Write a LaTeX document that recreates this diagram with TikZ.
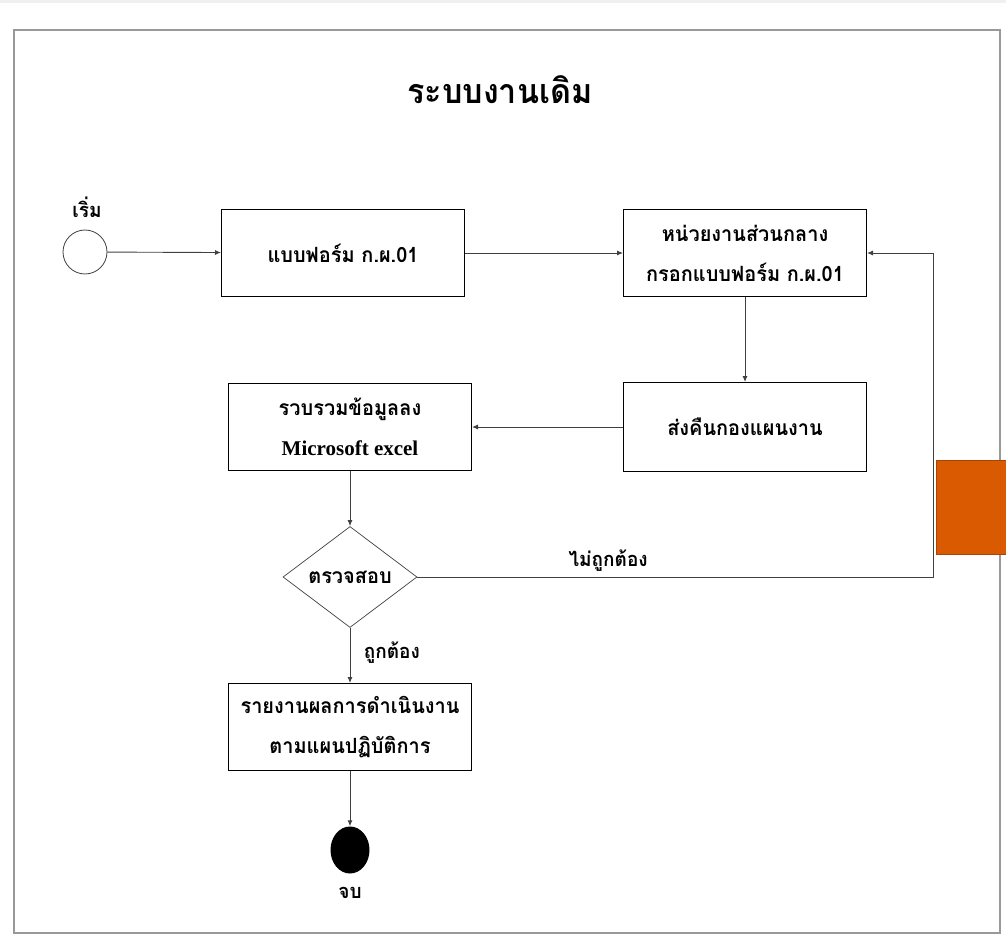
\documentclass[tikz,border=0pt]{standalone}
\usepackage{fontspec}
\setmainfont{Liberation Serif}
\newfontfamily\thaifont[Script=Thai, FakeStretch=0.95]{Loma}
\usetikzlibrary{positioning,shapes.geometric,arrows.meta}
\definecolor{blockorange}{RGB}{218,90,2}
\definecolor{blockedge}{RGB}{168,68,8}

\begin{document}
\begin{tikzpicture}[
  x=1pt, y=-1pt,
  font=\thaifont\bfseries\fontsize{21}{40}\selectfont,
  box/.style={rectangle, draw=black, line width=1pt,
              minimum width=243pt, minimum height=87pt, inner sep=0pt,
              align=center},
  decide/.style={diamond, draw=black!75, line width=0.7pt, aspect=1.33,
                 minimum width=134pt, minimum height=101pt, inner sep=0pt},
  initial/.style={circle, draw=black!75, line width=0.8pt,
                  minimum width=40pt, minimum height=44pt, inner sep=0pt},
  final/.style={ellipse, fill=black, minimum width=39pt, minimum height=47pt,
                inner sep=0pt},
  arr/.style={draw=black!75, line width=0.9pt, -{Latex[length=6pt,width=5pt]}},
  lbl/.style={font=\thaifont\bfseries\fontsize{20}{22}\selectfont}
]
\useasboundingbox (0,0) rectangle (1006,949);
\fill[black!6] (0,0) rectangle (1006,3);

% ---- frame and title ----
\draw[black!40, line width=2pt] (14,30) rectangle (1000,933);
\node[font=\thaifont\bfseries\fontsize{34}{38}\selectfont] (title) at (500,90) {ระบบงานเดิม};

% ---- activities ----
\node[initial] (start) at (85,252) {};
\node[lbl] (startlbl) at (87,207) {เริ่ม};
\node[box] (form) at (343,253) {แบบฟอร์ม ก.ผ.01};
\node[box] (central) at (745,253) {หน่วยงานส่วนกลาง\\กรอกแบบฟอร์ม ก.ผ.01};
\node[box, minimum height=89pt] (returnp) at (745,427) {ส่งคืนกองแผนงาน};
\node[box] (collect) at (350,427) {รวบรวมข้อมูลลง\\{\fontspec{Liberation Serif}\bfseries\fontsize{21}{24}\selectfont Microsoft excel}};
\node[decide] (check) at (350,577) {ตรวจสอบ};
\node[box] (report) at (350,727) {รายงานผลการดำเนินงาน\\ตามแผนปฏิบัติการ};
\node[final] (finish) at (350,850) {};
\node[lbl] (finishlbl) at (350,893) {จบ};

% ---- flow ----
\draw[arr] (start) -- (form);
\draw[arr] (form) -- (central);
\draw[arr] (central) -- (returnp);
\draw[arr] (returnp) -- (collect);
\draw[arr] (collect) -- (check);
\draw[arr] (check) -- node[lbl, right, pos=0.45, xshift=10pt] {ถูกต้อง} (report);
\draw[arr] (report) -- (finish);

% back to the central unit
\coordinate (turn) at (933,577);
\draw[arr] (check.east) -- node[lbl, above, pos=0.37, yshift=2pt] {ไม่ถูกต้อง} (turn) |- (central.east);

% orange tab on the right edge
\draw[fill=blockorange, draw=blockedge, line width=1pt] (936,460) rectangle (1012,554);

\end{tikzpicture}
\end{document}
